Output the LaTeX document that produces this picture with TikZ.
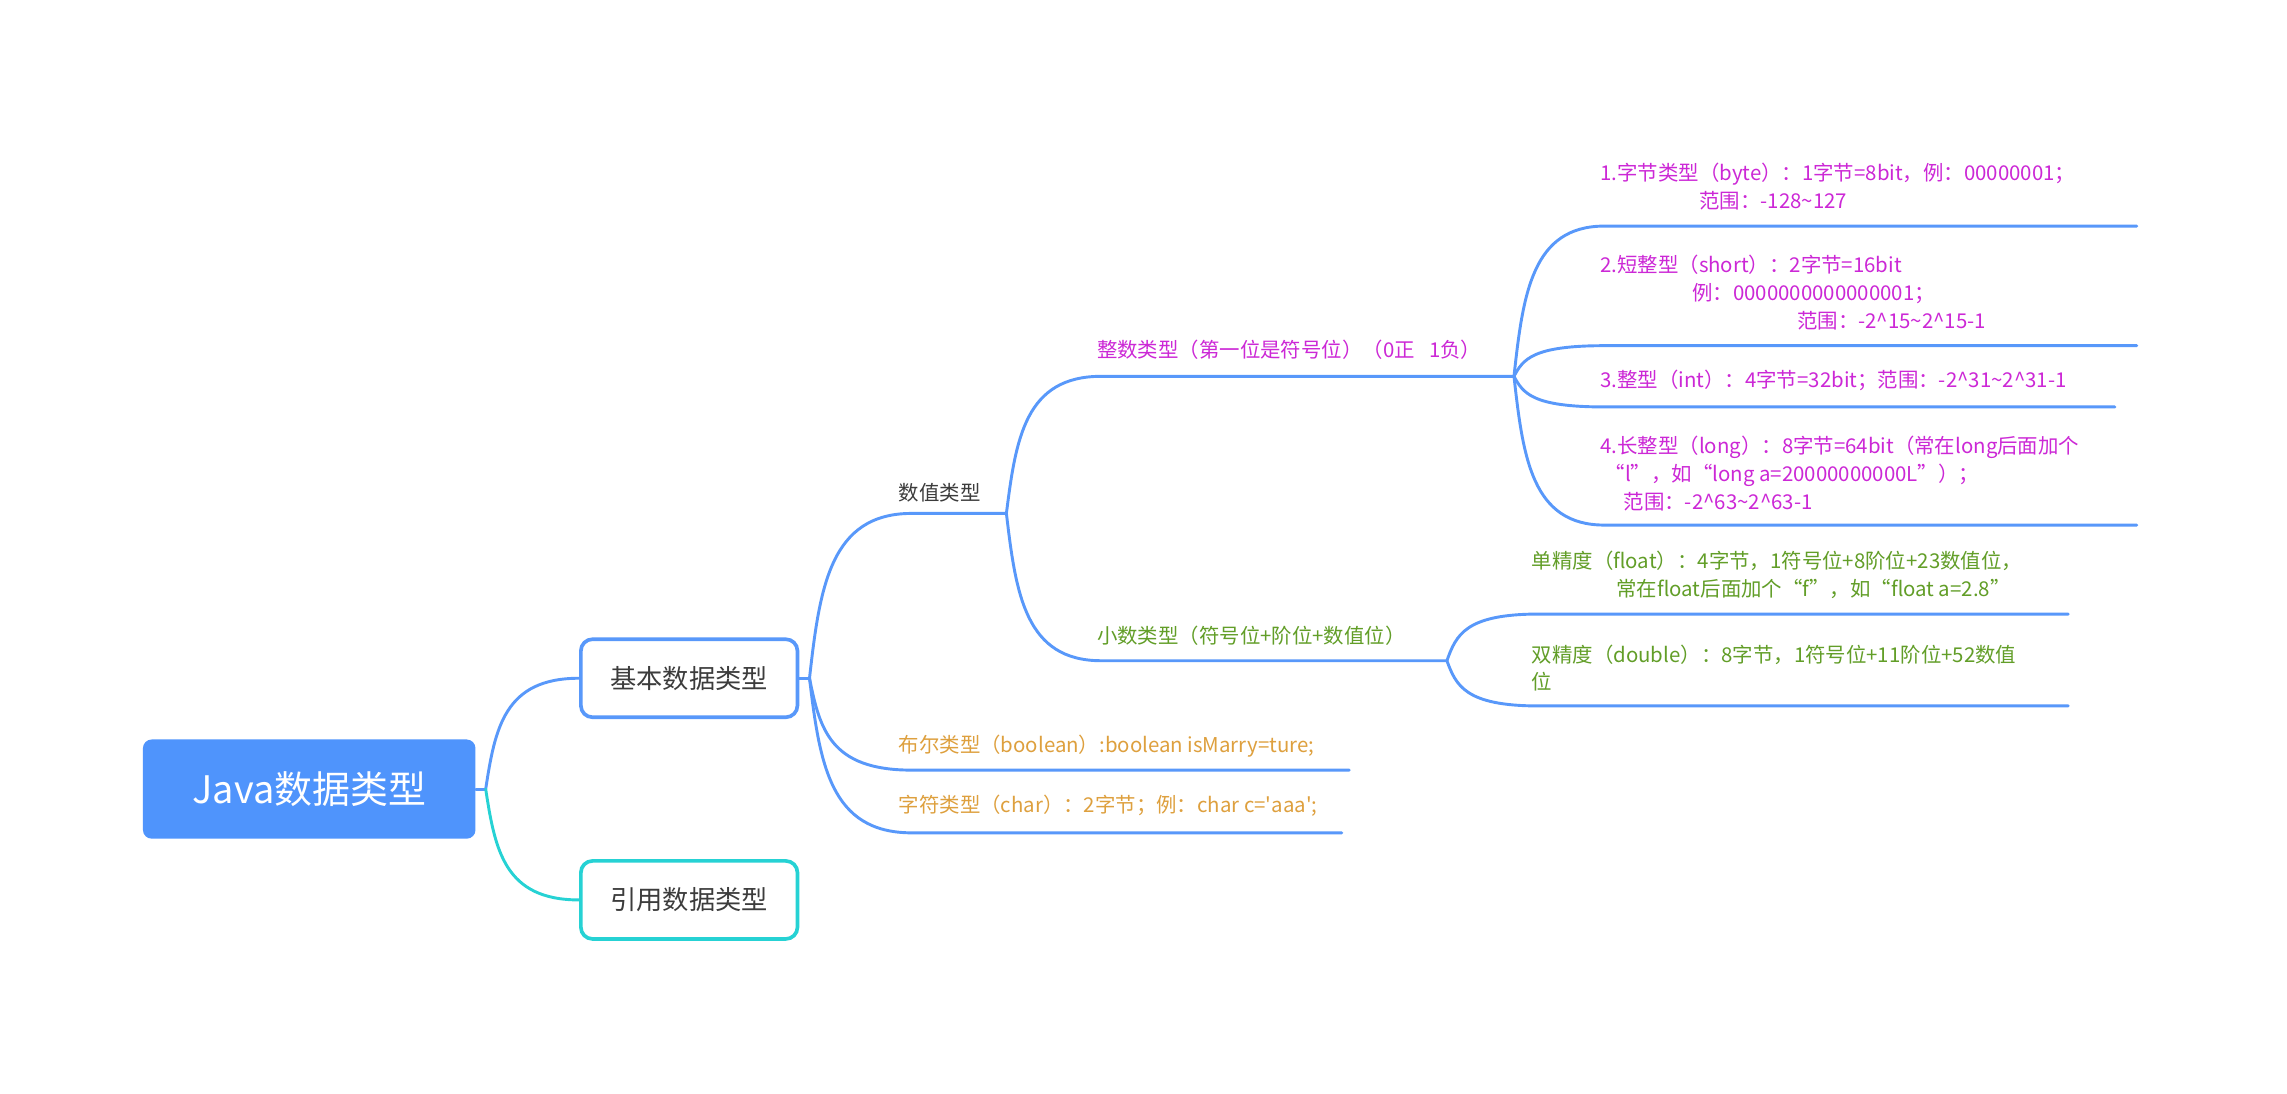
\documentclass[tikz,border=0pt]{standalone}
\usepackage{fontspec}
\setmainfont{Noto Sans CJK SC}[Ligatures=TeXOff]
\usetikzlibrary{calc}
\definecolor{lineblue}{RGB}{88,152,250}
\definecolor{rootblue}{RGB}{79,148,252}
\definecolor{cyanline}{RGB}{38,210,212}
\definecolor{magtext}{RGB}{204,40,214}
\definecolor{greentext}{RGB}{98,158,40}
\definecolor{orangetext}{RGB}{222,160,62}
\definecolor{graytext}{RGB}{60,60,60}
\newcommand\mytld{\textasciitilde}
\newcommand\mycrt{\textasciicircum}
\newcommand\mlines[1]{\vtop{\baselineskip=19pt\lineskiplimit=-10pt\lineskip=0pt #1}}
\newcommand\mmcurve[3]{\draw[conn,#1] let \p1=(#2), \p2=(#3) in (#2) .. controls ({\x1+0.1*(\x2-\x1)},{\y1+0.55*(\y2-\y1)}) and ({\x1+0.2*(\x2-\x1)},{\y2}) .. (#3);}
\newcommand\mmbranch[4]{\draw[conn,#1] let \p1=(#2), \p2=(#3) in (#2) .. controls ({\x1+0.1*(\x2-\x1)},{\y1+0.55*(\y2-\y1)}) and ({\x1+0.2*(\x2-\x1)},{\y2}) .. (#3) -- (#4);}
\begin{document}
\begin{tikzpicture}[x=1pt,y=-1pt,
  conn/.style={line width=2pt,line cap=round,line join=round},
  rootbox/.style={fill=rootblue,rounded corners=6pt,minimum width=228pt,minimum height=68pt,text=white,inner sep=0pt,font=\fontsize{26}{30}\selectfont},
  topicbox/.style={fill=white,line width=2.5pt,rounded corners=8pt,minimum width=148.5pt,minimum height=53.5pt,inner sep=0pt,text=graytext,font=\fontsize{18}{22}\selectfont},
  lbl/.style={inner sep=0pt,anchor=base west,font=\fontsize{14}{19}\selectfont},
  maglbl/.style={lbl,text=magtext},
  greenlbl/.style={lbl,text=greentext},
  orangelbl/.style={lbl,text=orangetext},
  graylbl/.style={lbl,text=graytext}]
\useasboundingbox (0,0) rectangle (1568,750);
\fill[white] (0,0) rectangle (1568,750);

% main nodes
\node[rootbox] (root) at (212,541) {Java数据类型};
\node[topicbox,draw=lineblue] (basic) at (472.5,465) {基本数据类型};
\node[topicbox,draw=cyanline] (ref) at (472.5,617) {引用数据类型};

% junctions and line ends
\coordinate (rootJ) at (333,541);
\coordinate (basicJ) at (555,465);
\coordinate (num-s) at (625,352);   \coordinate (num-e) at (690,352);
\coordinate (int-s) at (755,258);   \coordinate (int-e) at (1038,258);
\coordinate (dec-s) at (755,453);   \coordinate (dec-e) at (992,453);
\coordinate (bool-s) at (625,528);  \coordinate (bool-e) at (925,528);
\coordinate (char-s) at (625,571);  \coordinate (char-e) at (920,571);
\coordinate (i1-s) at (1100,155);   \coordinate (i1-e) at (1465,155);
\coordinate (i2-s) at (1100,237);   \coordinate (i2-e) at (1465,237);
\coordinate (i3-s) at (1100,279);   \coordinate (i3-e) at (1450,279);
\coordinate (i4-s) at (1100,360);   \coordinate (i4-e) at (1465,360);
\coordinate (f-s) at (1055,421);    \coordinate (f-e) at (1418,421);
\coordinate (d-s) at (1055,484);    \coordinate (d-e) at (1418,484);

% connectors
\draw[conn,lineblue] (root.east) -- (rootJ);
\mmcurve{lineblue}{rootJ}{basic.west}
\mmcurve{cyanline}{rootJ}{ref.west}
\draw[conn,lineblue] (basic.east) -- (basicJ);
\mmbranch{lineblue}{basicJ}{num-s}{num-e}
\mmbranch{lineblue}{basicJ}{bool-s}{bool-e}
\mmbranch{lineblue}{basicJ}{char-s}{char-e}
\mmbranch{lineblue}{num-e}{int-s}{int-e}
\mmbranch{lineblue}{num-e}{dec-s}{dec-e}
\mmbranch{lineblue}{int-e}{i1-s}{i1-e}
\mmbranch{lineblue}{int-e}{i2-s}{i2-e}
\mmbranch{lineblue}{int-e}{i3-s}{i3-e}
\mmbranch{lineblue}{int-e}{i4-s}{i4-e}
\mmbranch{lineblue}{dec-e}{f-s}{f-e}
\mmbranch{lineblue}{dec-e}{d-s}{d-e}

% labels
\node[graylbl] (num) at (616,343) {数值类型};
\node[maglbl] (int) at (752,245) {整数类型（第一位是符号位）（0正\hspace{0.7em}1负）};
\node[greenlbl] (dec) at (752,441) {小数类型（符号位+阶位+数值位）};
\node[orangelbl] (bool) at (616,516) {布尔类型（boolean）:boolean isMarry=ture;};
\node[orangelbl] (char) at (616,557) {字符类型（char）：2字节；例：char c='aaa';};

\node[maglbl] (i1) at (1097,124) {\mlines{\hbox{1.字节类型（byte）：1字节=8bit，例：00000001；}\hbox{\kern68pt 范围：-128\mytld127}}};
\node[maglbl] (i2) at (1097,187) {\mlines{\hbox{2.短整型（short）：2字节=16bit}\hbox{\kern63pt 例：0000000000000001；}\hbox{\kern135pt 范围：-2\mycrt15\mytld2\mycrt15-1}}};
\node[maglbl] (i3) at (1097,266) {3.整型（int）：4字节=32bit；范围：-2\mycrt31\mytld2\mycrt31-1};
\node[maglbl] (i4) at (1097,311) {\mlines{\hbox{4.长整型（long）：8字节=64bit（常在long后面加个}\hbox{\kern3pt “l”，如“long a=20000000000L”）；}\hbox{\kern16pt 范围：-2\mycrt63\mytld2\mycrt63-1}}};
\node[greenlbl] (fl) at (1050,390) {\mlines{\hbox{单精度（float）：4字节，1符号位+8阶位+23数值位，}\hbox{\kern58pt 常在float后面加个“f”，如“float a=2.8”}}};
\node[greenlbl] (db) at (1050,454) {\mlines{\hbox{双精度（double）：8字节，1符号位+11阶位+52数值}\hbox{位}}};
\end{tikzpicture}
\end{document}
